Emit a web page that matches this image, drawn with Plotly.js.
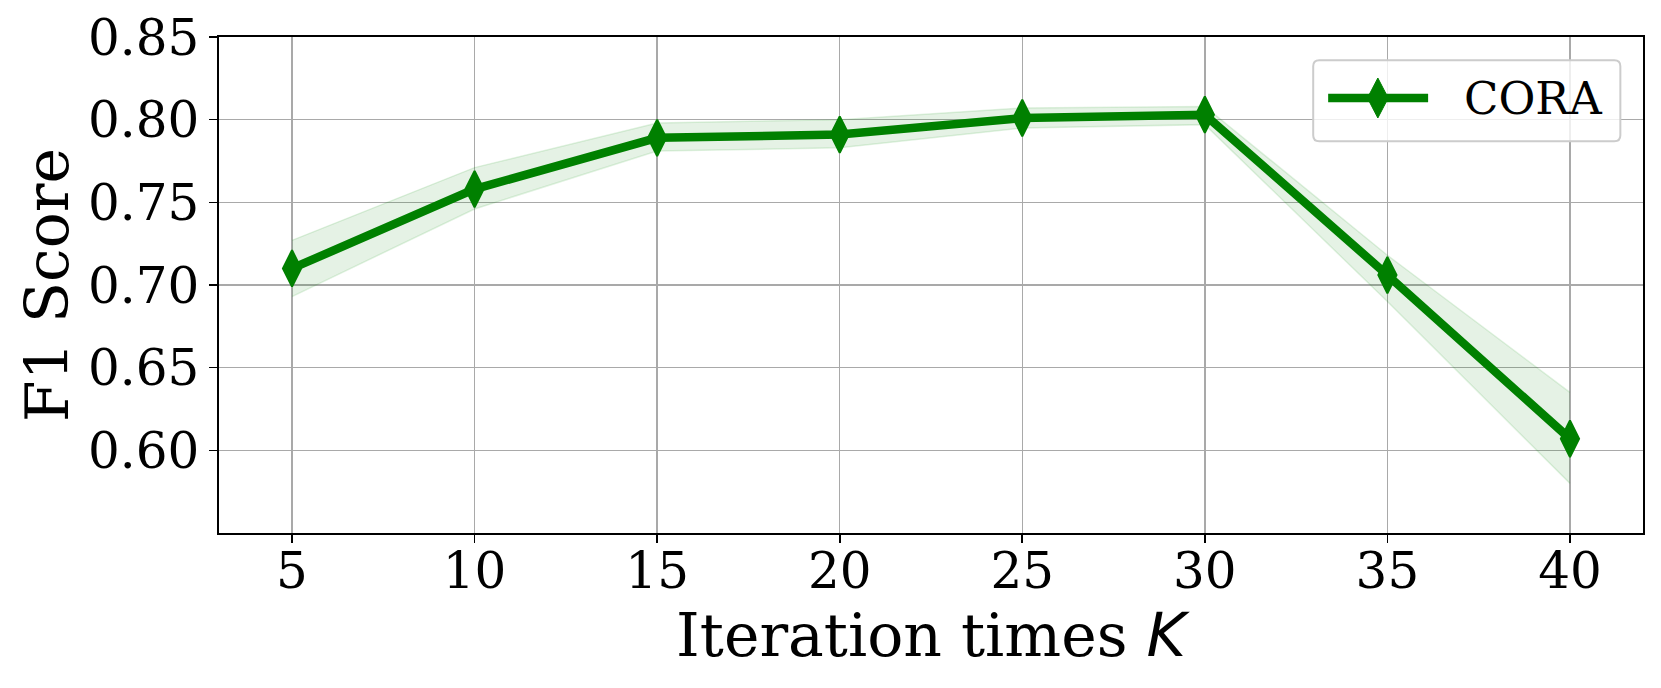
<!DOCTYPE html>
<html>
<head>
<meta charset="utf-8">
<script src="https://cdn.plot.ly/plotly-3.0.1.min.js"></script>
<style>html,body{margin:0;padding:0;background:#fff;}#chart{width:1661px;height:688px;}</style>
</head>
<body>
<div id="chart"></div>
<script>
const iterations = [5, 10, 15, 20, 25, 30, 35, 40];
const f1Mean  = [0.710, 0.758, 0.789, 0.791, 0.801, 0.803, 0.706, 0.607];
const f1Upper = [0.727, 0.771, 0.798, 0.800, 0.807, 0.808, 0.718, 0.635];
const f1Lower = [0.693, 0.746, 0.781, 0.783, 0.795, 0.797, 0.690, 0.580];
const yTicks = [0.60, 0.65, 0.70, 0.75, 0.80, 0.85];
const xTicks = [5, 10, 15, 20, 25, 30, 35, 40];
const seriesName = 'CORA';

const serif = 'DejaVu Serif, serif';
const green = '#008000';
const bandEdge = 'rgba(0,150,0,0.12)';
const bandFill = 'rgba(0,128,0,0.10)';

const traces = [
  {x: iterations, y: f1Lower, mode: 'lines', line: {color: bandEdge, width: 1.5}, showlegend: false, hoverinfo: 'skip'},
  {x: iterations, y: f1Upper, mode: 'lines', fill: 'tonexty', fillcolor: bandFill, line: {color: bandEdge, width: 1.5}, showlegend: false, hoverinfo: 'skip'},
  {x: iterations, y: f1Mean, mode: 'lines+markers', name: seriesName, showlegend: false,
   line: {color: green, width: 8.5},
   marker: {symbol: 'diamond-tall', size: 26, color: green, line: {width: 2, color: green}}}
];

const axisCommon = {
  showline: true, linecolor: '#000', linewidth: 1.6, mirror: true,
  ticks: 'outside', ticklen: 8, tickwidth: 1.6, tickcolor: '#000',
  showgrid: true, gridcolor: '#a9a9a9', gridwidth: 1.5,
  zeroline: false,
  tickfont: {family: serif, size: 50, color: '#000'}
};

// custom legend box (paper coordinates), matching a matplotlib-style rounded legend
const lg = {x0: 0.7684, x1: 0.9841, y0: 0.7899, y1: 0.9530, rx: 0.0042, ry: 0.0121};
const boxPath = `M${lg.x0+lg.rx},${lg.y1} L${lg.x1-lg.rx},${lg.y1} Q${lg.x1},${lg.y1} ${lg.x1},${lg.y1-lg.ry} ` +
  `L${lg.x1},${lg.y0+lg.ry} Q${lg.x1},${lg.y0} ${lg.x1-lg.rx},${lg.y0} L${lg.x0+lg.rx},${lg.y0} ` +
  `Q${lg.x0},${lg.y0} ${lg.x0},${lg.y0+lg.ry} L${lg.x0},${lg.y1-lg.ry} Q${lg.x0},${lg.y1} ${lg.x0+lg.rx},${lg.y1} Z`;
const sampleY = 0.8770;
const dm = {cx: 0.8138, cy: sampleY, hx: 0.0073, hy: 0.0403};
const diamondPath = `M${dm.cx},${dm.cy+dm.hy} L${dm.cx+dm.hx},${dm.cy} L${dm.cx},${dm.cy-dm.hy} L${dm.cx-dm.hx},${dm.cy} Z`;

const layout = {
  width: 1661, height: 688,
  margin: {l: 219, r: 18, t: 37, b: 155},
  paper_bgcolor: '#fff', plot_bgcolor: '#fff',
  showlegend: false,
  xaxis: Object.assign({}, axisCommon, {
    range: [3, 42], tickvals: xTicks, ticktext: xTicks.map(String),
    ticklabelstandoff: -15,
    title: {text: 'Iteration times <span style="font-family:DejaVu Sans"><i>K</i></span>', font: {family: serif, size: 60, color: '#000'}, standoff: 3}
  }),
  yaxis: Object.assign({}, axisCommon, {
    range: [0.55, 0.85], tickvals: yTicks, ticktext: yTicks.map(v => v.toFixed(2)),
    title: {text: 'F1 Score', font: {family: serif, size: 60, color: '#000'}, standoff: 0}
  }),
  shapes: [
    {type: 'path', xref: 'paper', yref: 'paper', path: boxPath, fillcolor: 'rgba(255,255,255,0.8)', line: {color: '#cccccc', width: 2}, layer: 'above'},
    {type: 'line', xref: 'paper', yref: 'paper', x0: 0.7789, x1: 0.8491, y0: sampleY, y1: sampleY, line: {color: green, width: 8.5}, layer: 'above'},
    {type: 'path', xref: 'paper', yref: 'paper', path: diamondPath, fillcolor: green, line: {color: green, width: 1}, layer: 'above'}
  ],
  annotations: [
    {xref: 'paper', yref: 'paper', x: 0.8731, y: sampleY, xanchor: 'left', yanchor: 'middle', showarrow: false,
     text: seriesName, font: {family: serif, size: 45, color: '#000'}}
  ]
};

Plotly.newPlot('chart', traces, layout, {staticPlot: true, displayModeBar: false});
</script>
</body>
</html>
